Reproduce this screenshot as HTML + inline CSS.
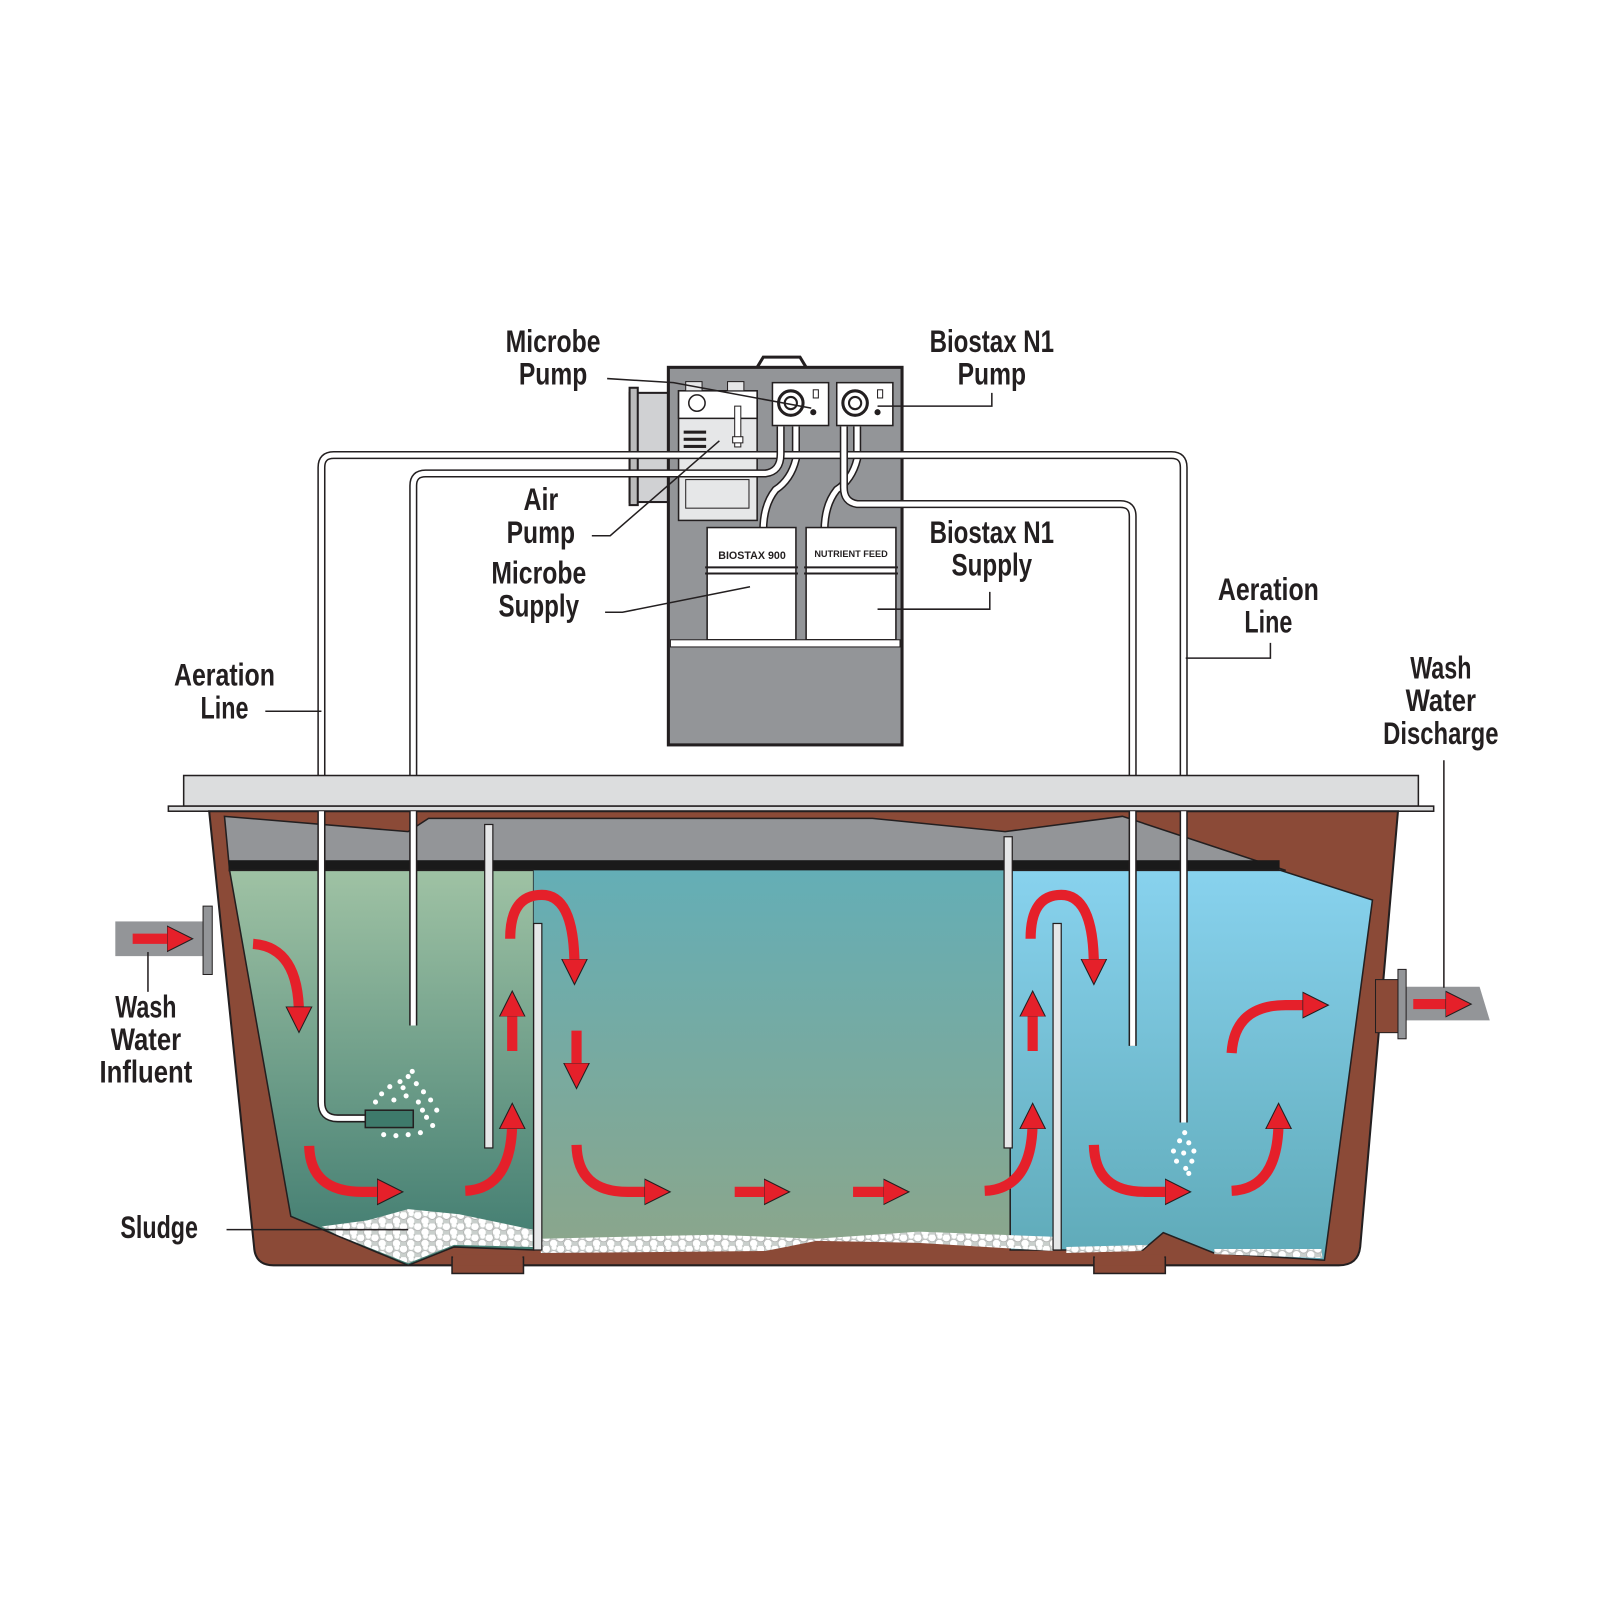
<!DOCTYPE html>
<html><head><meta charset="utf-8"><style>
html,body{margin:0;padding:0;background:#fff;}
svg{display:block;}
.lbl{font-family:"Liberation Sans",sans-serif;font-weight:bold;font-size:31px;fill:#231f20;text-anchor:middle;}
.ln{stroke:#231f20;stroke-width:1.5;fill:none;}
.pipe{stroke:#231f20;stroke-width:8;fill:none;}
.pipei{stroke:#fff;stroke-width:5;fill:none;}
.arri{stroke:#e5202a;stroke-width:10;fill:none;}
</style></head><body>
<svg width="1600" height="1600" viewBox="0 0 1568 1568" xmlns="http://www.w3.org/2000/svg">
<defs>
<linearGradient id="g1" x1="0" y1="0" x2="0" y2="1"><stop offset="0" stop-color="#9fc2a4"/><stop offset="1" stop-color="#3e7a6f"/></linearGradient>
<linearGradient id="g2" x1="0" y1="0" x2="0" y2="1"><stop offset="0" stop-color="#64aeb6"/><stop offset="1" stop-color="#8ba68b"/></linearGradient>
<linearGradient id="g3" x1="0" y1="0" x2="0" y2="1"><stop offset="0" stop-color="#88d2ee"/><stop offset="1" stop-color="#5faab8"/></linearGradient>
<pattern id="sl" width="14" height="11" patternUnits="userSpaceOnUse">
<rect width="14" height="11" fill="#c9cfcc"/>
<circle cx="3.5" cy="3" r="4" fill="#fff" stroke="#999" stroke-width=".5"/>
<circle cx="10.5" cy="8.5" r="4" fill="#fff" stroke="#999" stroke-width=".5"/>
<circle cx="11" cy="1.5" r="2.5" fill="#fff"/>
</pattern>
<marker id="ah" markerWidth="2.8" markerHeight="2.8" refX="1.2" refY="2" orient="auto" markerUnits="strokeWidth" viewBox="0 0 4 4">
<path d="M0,0.2 L3.6,2 L0,3.8Z" fill="#e5202a" stroke="#231f20" stroke-width="0.15"/>
</marker>
</defs>

<path d="M742,360 L748,350 L784,350 L790,360" fill="none" stroke="#231f20" stroke-width="3"/>
<rect x="617" y="385" width="40" height="107" fill="#d0d1d3" stroke="#231f20" stroke-width="2"/>
<rect x="617" y="380" width="8" height="115" fill="#bbb" stroke="#231f20" stroke-width="2"/>
<rect x="655" y="360" width="229" height="370" fill="#939598" stroke="#231f20" stroke-width="3"/>
<rect x="665" y="383" width="77" height="127" fill="#e6e7e8" stroke="#231f20" stroke-width="1.5"/>
<rect x="665" y="383" width="77" height="27" fill="#fff" stroke="#231f20" stroke-width="1.5"/>
<rect x="672" y="374" width="16" height="9" fill="#e6e7e8" stroke="#231f20"/>
<rect x="713" y="374" width="16" height="9" fill="#e6e7e8" stroke="#231f20"/>
<circle cx="683" cy="395" r="8" fill="#fff" stroke="#231f20" stroke-width="1.5"/>
<rect x="670" y="422" width="22" height="3" fill="#231f20"/><rect x="670" y="429" width="22" height="3" fill="#231f20"/><rect x="670" y="436" width="22" height="3" fill="#231f20"/>
<rect x="720" y="398" width="6" height="40" fill="#fff" stroke="#231f20"/>
<rect x="672" y="470" width="62" height="28" fill="#e6e7e8" stroke="#231f20"/>
<rect x="757" y="375" width="55" height="42" fill="#fff" stroke="#231f20" stroke-width="1.5"/>
<rect x="820" y="375" width="55" height="42" fill="#fff" stroke="#231f20" stroke-width="1.5"/>
<circle cx="775" cy="395" r="12" fill="#fff" stroke="#231f20" stroke-width="3"/><circle cx="775" cy="395" r="6" fill="#fff" stroke="#231f20" stroke-width="2"/>
<circle cx="838" cy="395" r="12" fill="#fff" stroke="#231f20" stroke-width="3"/><circle cx="838" cy="395" r="6" fill="#fff" stroke="#231f20" stroke-width="2"/>
<circle cx="797" cy="404" r="3" fill="#231f20"/><circle cx="860" cy="404" r="3" fill="#231f20"/>
<rect x="797" y="382" width="5" height="8" fill="none" stroke="#231f20"/><rect x="860" y="382" width="5" height="8" fill="none" stroke="#231f20"/>
<path class="pipe" d="M780,418 L780,450 Q775,470 760,480 Q748,495 748,520"/><path class="pipei" d="M780,418 L780,450 Q775,470 760,480 Q748,495 748,520"/>
<path class="pipe" d="M840,418 L840,450 Q835,470 820,480 Q808,495 808,520"/><path class="pipei" d="M840,418 L840,450 Q835,470 820,480 Q808,495 808,520"/>
<path class="pipe" d="M315,760 L315,458 Q315,446 327,446 L1148,446 Q1160,446 1160,458 L1160,760"/>
<path class="pipei" d="M315,760 L315,458 Q315,446 327,446 L1148,446 Q1160,446 1160,458 L1160,760"/>
<path class="pipe" d="M405,760 L405,476 Q405,464 417,464 L750,464 Q765,462 765,445 L765,418"/>
<path class="pipei" d="M405,760 L405,476 Q405,464 417,464 L750,464 Q765,462 765,445 L765,418"/>
<path class="pipe" d="M1110,760 L1110,506 Q1110,494 1098,494 L840,494 Q827,492 827,478 L827,418"/>
<path class="pipei" d="M1110,760 L1110,506 Q1110,494 1098,494 L840,494 Q827,492 827,478 L827,418"/>
<rect x="718" y="428" width="10" height="6" fill="#fff" stroke="#231f20"/>
<rect x="693" y="517" width="87" height="110" fill="#fff" stroke="#231f20" stroke-width="1.5"/>
<rect x="790" y="517" width="88" height="110" fill="#fff" stroke="#231f20" stroke-width="1.5"/>
<line x1="691" y1="556" x2="782" y2="556" stroke="#231f20" stroke-width="2"/><line x1="691" y1="562" x2="782" y2="562" stroke="#231f20" stroke-width="2"/>
<line x1="788" y1="556" x2="880" y2="556" stroke="#231f20" stroke-width="2"/><line x1="788" y1="562" x2="880" y2="562" stroke="#231f20" stroke-width="2"/>
<text x="737" y="548" font-family="Liberation Sans,sans-serif" font-weight="bold" font-size="10.5" text-anchor="middle" fill="#231f20">BIOSTAX 900</text>
<text x="834" y="546" font-family="Liberation Sans,sans-serif" font-weight="bold" font-size="9" text-anchor="middle" fill="#231f20">NUTRIENT FEED</text>
<rect x="657" y="627" width="225" height="7" fill="#fff" stroke="#231f20"/>

<rect x="180" y="760" width="1210" height="30" fill="#dcddde" stroke="#231f20" stroke-width="1.5"/>
<rect x="165" y="790" width="1240" height="5" fill="#dcddde" stroke="#231f20" stroke-width="1.5"/>

<rect x="113" y="903" width="90" height="34" fill="#939598"/>
<rect x="199" y="888" width="9" height="67" fill="#939598" stroke="#231f20"/>
<path d="M1365,967 L1450,967 L1460,1000 L1365,1000Z" fill="#939598"/>
<rect x="1370" y="950" width="8" height="68" fill="#939598" stroke="#231f20"/>

<path d="M205,795 L1370,795 L1333,1222 Q1331,1240 1312,1240 L268,1240 Q250,1240 249,1222 Z" fill="#8b4a37" stroke="#231f20" stroke-width="2"/>
<rect x="1348" y="960" width="22" height="52" fill="#8b4a37" stroke="#231f20"/>
<rect x="443" y="1232" width="70" height="16" fill="#8b4a37" stroke="#231f20" stroke-width="1.5"/>
<rect x="1072" y="1232" width="70" height="16" fill="#8b4a37" stroke="#231f20" stroke-width="1.5"/>
<rect x="444" y="1229" width="68" height="11" fill="#8b4a37"/><rect x="1073" y="1229" width="68" height="11" fill="#8b4a37"/>

<path d="M220,800 L400,815 L420,802 L855,802 L985,815 L1100,800 L1260,853 L225,853 Z" fill="#939598" stroke="#231f20" stroke-width="1.5"/>
<rect x="224" y="843" width="1030" height="11" fill="#1a1a1a"/>
<path d="M225,853 L523,853 L523,1225 L445,1222 L400,1240 L285,1192 Z" fill="url(#g1)" stroke="#231f20" stroke-width="1.5"/>
<path d="M523,853 L990,853 L990,1215 L800,1215 L750,1225 L523,1225 Z" fill="url(#g2)"/>
<path d="M990,853 L1255,853 L1345,882 L1298,1235 L1190,1228 L1140,1208 L1120,1225 L990,1225 Z" fill="url(#g3)" stroke="#231f20" stroke-width="1.5"/>
<path d="M315,1202 L360,1196 L400,1185 L450,1190 L522,1205 L522,1222 L445,1220 L400,1238 L330,1210Z" fill="url(#sl)"/>
<path d="M530,1214 L700,1210 L800,1214 L900,1207 L1032,1212 L1032,1226 L900,1218 L800,1216 L750,1226 L530,1228Z" fill="url(#sl)"/>
<path d="M1045,1222 L1125,1220 L1118,1226 L1045,1228Z" fill="url(#sl)"/>
<path d="M1190,1224 L1295,1224 L1296,1233 L1190,1229Z" fill="url(#sl)"/>

<rect x="475" y="808" width="8" height="317" fill="#e6e7e8" stroke="#231f20" stroke-width="1.2"/>
<rect x="523" y="905" width="8" height="320" fill="#e6e7e8" stroke="#231f20" stroke-width="1.2"/>
<rect x="984" y="820" width="8" height="305" fill="#e6e7e8" stroke="#231f20" stroke-width="1.2"/>
<rect x="1032" y="905" width="8" height="320" fill="#e6e7e8" stroke="#231f20" stroke-width="1.2"/>
<path class="pipe" d="M315,795 L315,1080 Q315,1096 331,1096 L360,1096"/><path class="pipei" d="M315,795 L315,1080 Q315,1096 331,1096 L360,1096"/>
<path class="pipe" d="M405,795 L405,1005"/><path class="pipei" d="M405,795 L405,1005"/>
<path class="pipe" d="M1110,795 L1110,1025"/><path class="pipei" d="M1110,795 L1110,1025"/>
<path class="pipe" d="M1160,795 L1160,1100"/><path class="pipei" d="M1160,795 L1160,1100"/>
<rect x="358" y="1088" width="47" height="17" fill="#3e7a6b" stroke="#231f20" stroke-width="1.5"/>
<g fill="#fff">
<circle cx="374" cy="1072" r="2.5"/><circle cx="382" cy="1065" r="2.5"/><circle cx="392" cy="1060" r="2.5"/><circle cx="400" cy="1055" r="2.5"/><circle cx="408" cy="1062" r="2.5"/><circle cx="415" cy="1070" r="2.5"/><circle cx="422" cy="1078" r="2.5"/><circle cx="428" cy="1088" r="2.5"/><circle cx="418" cy="1095" r="2.5"/><circle cx="424" cy="1103" r="2.5"/><circle cx="412" cy="1110" r="2.5"/><circle cx="400" cy="1112" r="2.5"/><circle cx="388" cy="1113" r="2.5"/><circle cx="376" cy="1112" r="2.5"/><circle cx="368" cy="1080" r="2.5"/><circle cx="386" cy="1078" r="2.5"/><circle cx="398" cy="1074" r="2.5"/><circle cx="410" cy="1080" r="2.5"/><circle cx="404" cy="1050" r="2.5"/><circle cx="414" cy="1088" r="2.5"/><circle cx="395" cy="1066" r="2.5"/>
<circle cx="1161" cy="1110" r="2.5"/><circle cx="1156" cy="1118" r="2.5"/><circle cx="1165" cy="1120" r="2.5"/><circle cx="1150" cy="1128" r="2.5"/><circle cx="1160" cy="1130" r="2.5"/><circle cx="1168" cy="1138" r="2.5"/><circle cx="1153" cy="1138" r="2.5"/><circle cx="1162" cy="1145" r="2.5"/><circle cx="1170" cy="1128" r="2.5"/><circle cx="1165" cy="1150" r="2.5"/>
</g>

<g>
<path class="arri" marker-end="url(#ah)" d="M248,925 Q293,928 293,995"/>
<path class="arri" marker-end="url(#ah)" d="M303,1123 Q304,1168 355,1168 L378,1168"/>
<path class="arri" marker-end="url(#ah)" d="M456,1167 Q502,1165 502,1098"/>
<path class="arri" marker-end="url(#ah)" d="M502,1030 L502,988"/>
<path class="arri" marker-end="url(#ah)" d="M500,920 Q500,877 531,877 Q563,877 563,948"/>
<path class="arri" marker-end="url(#ah)" d="M565,1010 L565,1050"/>
<path class="arri" marker-end="url(#ah)" d="M565,1122 Q566,1168 615,1168 L640,1168"/>
<path class="arri" marker-end="url(#ah)" d="M720,1168 L757,1168"/>
<path class="arri" marker-end="url(#ah)" d="M836,1168 L874,1168"/>
<path class="arri" marker-end="url(#ah)" d="M965,1167 Q1012,1165 1012,1098"/>
<path class="arri" marker-end="url(#ah)" d="M1012,1030 L1012,988"/>
<path class="arri" marker-end="url(#ah)" d="M1010,920 Q1010,877 1040,877 Q1072,877 1072,948"/>
<path class="arri" marker-end="url(#ah)" d="M1072,1122 Q1073,1168 1122,1168 L1150,1168"/>
<path class="arri" marker-end="url(#ah)" d="M1207,1167 Q1253,1165 1253,1098"/>
<path class="arri" marker-end="url(#ah)" d="M1207,1032 Q1210,985 1260,985 L1285,985"/>
<path class="arri" marker-end="url(#ah)" d="M130,920 L172,920"/>
<path class="arri" marker-end="url(#ah)" d="M1385,984 L1425,984"/>
</g>

<path class="ln" d="M595,371 L660,375 L795,400"/>
<path class="ln" d="M580,525 L598,525 L705,432"/>
<path class="ln" d="M593,600 L610,600 L735,575"/>
<path class="ln" d="M972,385 L972,398 L860,398"/>
<path class="ln" d="M970,580 L970,597 L860,597"/>
<path class="ln" d="M260,697 L315,697"/>
<path class="ln" d="M1245,630 L1245,645 L1162,645"/>
<path class="ln" d="M222,1205 L400,1205"/>
<path class="ln" d="M145,933 L145,972"/>
<path class="ln" d="M1415,745 L1415,968"/>

<g class="lbl">
<text class="lbl" x="542" y="345" textLength="93" lengthAdjust="spacingAndGlyphs">Microbe</text><text class="lbl" x="542" y="377" textLength="67" lengthAdjust="spacingAndGlyphs">Pump</text>
<text class="lbl" x="972" y="345" textLength="122" lengthAdjust="spacingAndGlyphs">Biostax N1</text><text class="lbl" x="972" y="377" textLength="67" lengthAdjust="spacingAndGlyphs">Pump</text>
<text class="lbl" x="530" y="500" textLength="34" lengthAdjust="spacingAndGlyphs">Air</text><text class="lbl" x="530" y="532" textLength="67" lengthAdjust="spacingAndGlyphs">Pump</text>
<text class="lbl" x="528" y="572" textLength="93" lengthAdjust="spacingAndGlyphs">Microbe</text><text class="lbl" x="528" y="604" textLength="79" lengthAdjust="spacingAndGlyphs">Supply</text>
<text class="lbl" x="972" y="532" textLength="122" lengthAdjust="spacingAndGlyphs">Biostax N1</text><text class="lbl" x="972" y="564" textLength="79" lengthAdjust="spacingAndGlyphs">Supply</text>
<text class="lbl" x="1243" y="588" textLength="99" lengthAdjust="spacingAndGlyphs">Aeration</text><text class="lbl" x="1243" y="620" textLength="47" lengthAdjust="spacingAndGlyphs">Line</text>
<text class="lbl" x="220" y="672" textLength="99" lengthAdjust="spacingAndGlyphs">Aeration</text><text class="lbl" x="220" y="704" textLength="47" lengthAdjust="spacingAndGlyphs">Line</text>
<text class="lbl" x="1412" y="665" textLength="60" lengthAdjust="spacingAndGlyphs">Wash</text><text class="lbl" x="1412" y="697" textLength="69" lengthAdjust="spacingAndGlyphs">Water</text><text class="lbl" x="1412" y="729" textLength="113" lengthAdjust="spacingAndGlyphs">Discharge</text>
<text class="lbl" x="143" y="997" textLength="60" lengthAdjust="spacingAndGlyphs">Wash</text><text class="lbl" x="143" y="1029" textLength="69" lengthAdjust="spacingAndGlyphs">Water</text><text class="lbl" x="143" y="1061" textLength="91" lengthAdjust="spacingAndGlyphs">Influent</text>
<text class="lbl" x="156" y="1213" textLength="76" lengthAdjust="spacingAndGlyphs">Sludge</text>
</g>
</svg>
</body></html>
